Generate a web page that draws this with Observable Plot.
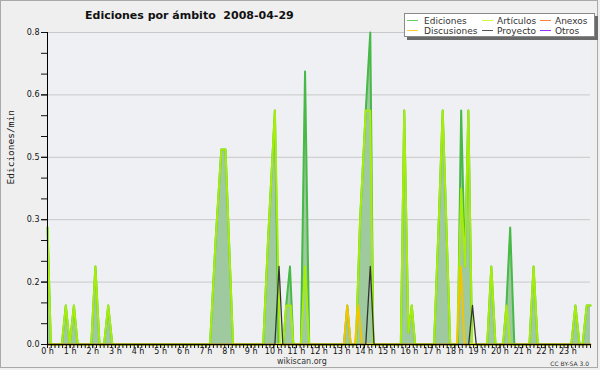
<!DOCTYPE html>
<html>
<head>
<meta charset="utf-8">
<script src="https://cdn.jsdelivr.net/npm/d3@7"></script>
<script src="https://cdn.jsdelivr.net/npm/@observablehq/plot@0.6"></script>
<style>
  body { margin:0; background:#efefef; }
  #wrap { position:relative; width:600px; height:370px; overflow:hidden; background:#efefef; font-family:"DejaVu Sans", sans-serif; }
  #chart { position:absolute; left:0; top:0; }
  #border { position:absolute; left:0; top:0; width:596px; height:366px; border:1px solid #a9a9a9; pointer-events:none; }
  #title { position:absolute; left:85px; top:9px; font:bold 11px "DejaVu Sans", sans-serif; color:#111; white-space:pre; line-height:13px; }
  #legend { position:absolute; left:404px; top:13px; width:189px; height:22px; background:#fff; border:1px solid #8a8a8a; box-shadow:3px 3px 0 #6a6a6a; }
  .li { position:absolute; font:9px "DejaVu Sans", sans-serif; color:#333; line-height:10px; white-space:nowrap; }
  .sw { position:absolute; height:1px; width:11px; }
  #src { position:absolute; left:277px; top:357px; font:8px "DejaVu Sans", sans-serif; color:#333; line-height:9px; }
  #lic { position:absolute; right:11px; top:360px; font:6px "DejaVu Sans", sans-serif; color:#333; line-height:7px; }
</style>
</head>
<body>
<div id="wrap">
  <div id="chart"></div>
  <div id="border"></div>
  <div id="title"></div>
  <div id="legend"></div>
  <div id="src">wikiscan.org</div>
  <div id="lic">CC BY-SA 3.0</div>
</div>
<script>
// ---- data: [minute of day, edits per minute] ----
const titleText = "Ediciones por ámbito  2008-04-29";
const yLabel = "Ediciones/min";
const seriesNames = ["Ediciones", "Artículos", "Anexos", "Discusiones", "Proyecto", "Otros"];
const seriesColors = ["#66cc66", "#ccff33", "#ff8040", "#ffcc33", "#555555", "#9933ff"];

const ediciones = [
  [0,0.3],[9,0],[38,0],[48.5,0.1],[59,0],[70,0.1],[80,0],[116,0],[127,0.2],[138,0],
  [150,0],[161,0.1],[172,0],[431,0],[446,0.27],[461,0.5],[472,0.5],[492,0],
  [572,0],[585,0.27],[603,0.6],[613,0],[625,0],[633,0.1],[643,0.2],[652,0],
  [672,0],[683,0.7],[694,0],[786,0],[795,0.1],[804,0],[818,0],[829,0.32],[844,0.6],
  [856,0.8],[864,0],[937,0],[946,0.6],[957,0.03],[966,0.1],[975,0],
  [1025,0],[1037,0.3],[1048,0.6],[1058,0.3],[1068,0],[1088,0],[1097,0.6],[1107,0.2],
  [1116,0.6],[1126,0],[1166,0],[1177,0.2],[1188,0],[1208,0],[1217,0.1],[1227,0.3],
  [1238,0],[1278,0],[1289,0.2],[1300,0],[1389,0],[1400,0.1],[1411,0],[1419,0],
  [1430,0.1],[1440,0.1]
];
const articulos = [
  [0,0.3],[9,0],[38,0],[48.5,0.1],[59,0],[70,0.1],[80,0],[116,0],[127,0.2],[138,0],
  [150,0],[161,0.1],[172,0],[431,0],[446,0.27],[461,0.5],[472,0.5],[492,0],
  [572,0],[585,0.27],[603,0.6],[616,0],[625,0],[633,0.1],[645,0.1],[652,0],
  [672,0],[683,0.2],[694,0],[818,0],[829,0.32],[844,0.6],[856,0.6],[864,0],
  [937,0],[946,0.6],[957,0.03],[966,0.1],[975,0],
  [1025,0],[1037,0.3],[1048,0.6],[1058,0.3],[1068,0],[1086,0],[1097,0.4],[1107,0.2],
  [1116,0.6],[1126,0],[1166,0],[1177,0.2],[1188,0],[1208,0],[1217,0.1],[1227,0],
  [1278,0],[1289,0.2],[1300,0],[1389,0],[1400,0.1],[1411,0],[1419,0],
  [1430,0.1],[1440,0.1]
];
const discusiones = [
  [0,0],[786,0],[795,0.1],[804,0],[815,0],[824,0.1],[834,0],
  [1086,0],[1096,0.2],[1106,0],[1440,0]
];
const proyecto = [
  [0,0],[603,0],[614,0.2],[624,0],[844,0],[856,0.2],[866,0],
  [1117,0],[1127,0.1],[1137,0],[1440,0]
];

const hourTicks = d3.range(0, 24, 1);
const minorXTicks = d3.range(0, 24 * 6 + 1).map(i => i / 6);
const yMajorTicks = [0, 0.16, 0.32, 0.48, 0.64, 0.8];
const yMinorTicks = d3.range(0, 16).map(i => i * 0.16 / 3);

// ---- chart ----
const X = d => d[0] / 60, Y = d => d[1];
const lineOpts = (stroke) => ({x: X, y: Y, stroke, strokeWidth: 2, curve: "linear", strokeLinejoin: "round"});

const chart = Plot.plot({
  width: 600, height: 370,
  marginLeft: 47, marginRight: 10, marginTop: 32, marginBottom: 26,
  style: {background: "transparent", fontFamily: "DejaVu Sans, sans-serif", fontSize: "8px", color: "#111"},
  x: {domain: [0, 24]},
  y: {domain: [0, 0.8]},
  marks: [
    Plot.frame({fill: "#eef0f3", stroke: null}),
    Plot.gridY(yMajorTicks, {stroke: "#c9c9c9", strokeOpacity: 1}),
    Plot.areaY(ediciones, {x: X, y: Y, fill: "#9fca9f", curve: "linear"}),
    Plot.line(ediciones, lineOpts("#46b946")),
    Plot.line(articulos, lineOpts("#a6ee0a")),
    Plot.line(discusiones, lineOpts("#f5c400")),
    Plot.line(proyecto, {...lineOpts("#333333"), strokeWidth: 1.3}),
    Plot.axisX(minorXTicks, {tickSize: 4, tickFormat: () => "", label: null}),
    Plot.axisX(hourTicks, {tickSize: 4, tickPadding: 0, tickFormat: d => `${d} h`, label: null}),
    Plot.axisY(yMinorTicks, {tickSize: 6, tickFormat: () => "", label: null}),
    Plot.axisY(yMajorTicks, {tickSize: 6, tickPadding: 2, tickFormat: d3.format(".1f"), label: null}),
    Plot.ruleX([0], {stroke: "#000"}),
    Plot.ruleY([0], {stroke: "#000"}),
    Plot.text([yLabel], {frameAnchor: "left", dx: -37, dy: -4, rotate: -90, fontFamily: "DejaVu Sans Mono, monospace", fontSize: 9.5, fill: "#111"})
  ]
});
document.getElementById("chart").appendChild(chart);
document.getElementById("title").textContent = titleText;

// ---- legend ----
const legend = document.getElementById("legend");
const cols = [{sw: 2, tx: 19}, {sw: 77, tx: 92}, {sw: 135, tx: 150}];
const rows = [6, 16];
const order = [[0,0],[1,1],[2,2],[3,0],[4,1],[5,2]]; // [seriesIndex, column]
order.forEach(([si, ci], k) => {
  const r = rows[k < 3 ? 0 : 1];
  const sw = document.createElement("div");
  sw.className = "sw";
  sw.style.left = cols[ci].sw + "px";
  sw.style.top = r + "px";
  sw.style.background = seriesColors[si];
  legend.appendChild(sw);
  const t = document.createElement("div");
  t.className = "li";
  t.style.left = cols[ci].tx + "px";
  t.style.top = (r - 4.5) + "px";
  t.textContent = seriesNames[si];
  legend.appendChild(t);
});
</script>
</body>
</html>
